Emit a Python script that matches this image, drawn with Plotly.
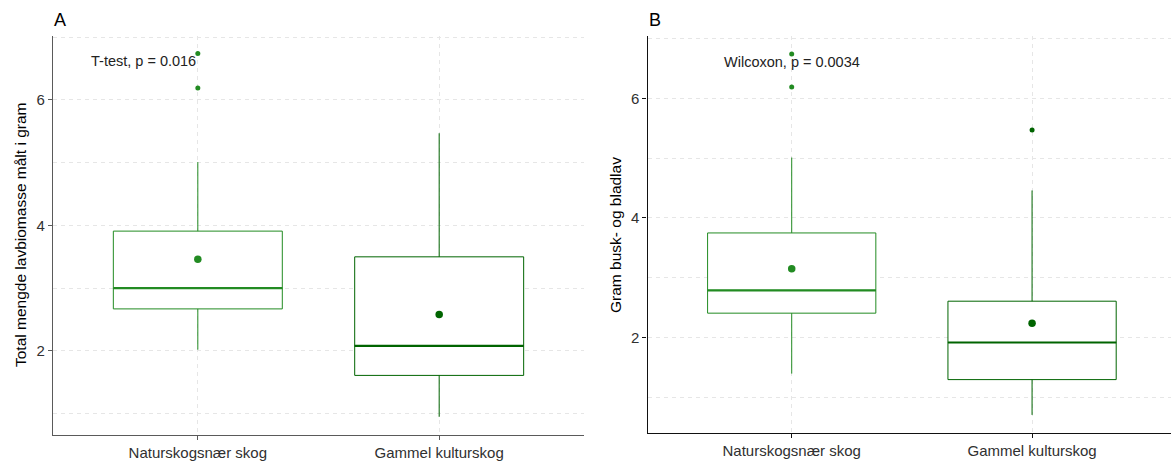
import plotly.graph_objects as go

W, H = 1171, 462

categories = ["Naturskogsnær skog", "Gammel kulturskog"]
colors = ["#228B22", "#006400"]

# Panel A: Total mengde lavbiomasse
a_q1 = [2.67, 1.61]
a_median = [3.00, 2.08]
a_q3 = [3.91, 3.50]
a_low = [2.02, 0.95]
a_high = [5.01, 5.47]
a_mean = [3.46, 2.58]
a_outliers = [[6.74, 6.19], []]
a_label = "T-test, p = 0.016"

# Panel B: Gram busk- og bladlav
b_q1 = [2.41, 1.30]
b_median = [2.79, 1.92]
b_q3 = [3.75, 2.61]
b_low = [1.40, 0.71]
b_high = [5.01, 4.46]
b_mean = [3.15, 2.24]
b_outliers = [[6.74, 6.19], [5.47]]
b_label = "Wilcoxon, p = 0.0034"

BOXW = 0.7
FONT = "Liberation Sans, Arial, sans-serif"

fig = go.Figure()


def add_panel(xa, ya, q1, med, q3, low, high, mean, outl):
    for i, cat in enumerate(categories):
        xi = i + 1
        c = colors[i]
        fig.add_trace(go.Box(
            x=[xi], q1=[q1[i]], median=[med[i]], q3=[q3[i]],
            lowerfence=[low[i]], upperfence=[high[i]],
            width=BOXW, whiskerwidth=0, fillcolor="white",
            line=dict(color=c, width=1), boxpoints=False,
            xaxis=xa, yaxis=ya, showlegend=False, hoverinfo="skip"))
        fig.add_trace(go.Scatter(
            x=[xi - BOXW / 2, xi + BOXW / 2], y=[med[i], med[i]],
            mode="lines", line=dict(color=c, width=2.2),
            xaxis=xa, yaxis=ya, showlegend=False, hoverinfo="skip"))
        fig.add_trace(go.Scatter(
            x=[xi], y=[mean[i]], mode="markers",
            marker=dict(color=c, size=7.5),
            xaxis=xa, yaxis=ya, showlegend=False, hoverinfo="skip"))
        if outl[i]:
            fig.add_trace(go.Scatter(
                x=[xi] * len(outl[i]), y=outl[i], mode="markers",
                marker=dict(color=c, size=5),
                xaxis=xa, yaxis=ya, showlegend=False, hoverinfo="skip"))


add_panel("x", "y", a_q1, a_median, a_q3, a_low, a_high, a_mean, a_outliers)
add_panel("x2", "y2", b_q1, b_median, b_q3, b_low, b_high, b_mean, b_outliers)

grid = dict(showgrid=True, gridcolor="#e6e6e6", griddash="4px,4px", gridwidth=1)


def xax(domain, rng, lc, anchor):
    return dict(domain=domain, range=rng, tickvals=[1, 2], ticktext=categories,
                showline=True, linecolor=lc, linewidth=1.2, ticks="outside",
                ticklen=4, tickcolor=lc, zeroline=False, anchor=anchor,
                tickfont=dict(family=FONT, size=15, color="#303030"), **grid)


def yax(domain, rng, lc, anchor):
    return dict(domain=domain, range=rng, tickvals=[2, 4, 6],
                showline=True, linecolor=lc, linewidth=1.2, ticks="outside",
                ticklen=4, tickcolor=lc, zeroline=False, anchor=anchor,
                tickfont=dict(family=FONT, size=15, color="#303030"),
                minor=dict(tickvals=[1, 3, 5, 7], showgrid=True, gridcolor="#e6e6e6",
                           griddash="4px,4px", ticks=""),
                **grid)


fig.update_layout(
    width=W, height=H, margin=dict(l=0, r=0, t=0, b=0),
    paper_bgcolor="white", plot_bgcolor="white", boxmode="overlay",
    xaxis=xax([53 / W, 584 / W], [0.4, 2.6], "#5a5a5a", "y"),
    yaxis=yax([1 - 435 / H, 1 - 36 / H], [0.66, 7.02], "#5a5a5a", "x"),
    xaxis2=xax([647.5 / W, 1.0], [0.4, 2.578], "#111111", "y2"),
    yaxis2=yax([1 - 433.3 / H, 1 - 36 / H], [0.403, 7.04], "#111111", "x2"),
)

ann = [
    dict(text="A", x=52 / W, y=1 - 20 / H, xref="paper", yref="paper",
         xanchor="left", yanchor="middle", showarrow=False,
         font=dict(family=FONT, size=18, color="black")),
    dict(text="B", x=647 / W, y=1 - 20 / H, xref="paper", yref="paper",
         xanchor="left", yanchor="middle", showarrow=False,
         font=dict(family=FONT, size=18, color="black")),
    dict(text="Total mengde lavbiomasse målt i gram", x=20 / W, y=1 - 235 / H,
         xref="paper", yref="paper", textangle=-90, showarrow=False,
         xanchor="center", yanchor="middle",
         font=dict(family=FONT, size=15.5, color="black")),
    dict(text="Gram busk- og bladlav", x=615 / W, y=1 - 235 / H,
         xref="paper", yref="paper", textangle=-90, showarrow=False,
         xanchor="center", yanchor="middle",
         font=dict(family=FONT, size=15.5, color="black")),
    dict(text=a_label, x=1, y=6.62, xref="x", yref="y", xanchor="right",
         yanchor="middle", showarrow=False,
         font=dict(family=FONT, size=14.5, color="#222222")),
    dict(text=b_label, x=1, y=6.61, xref="x2", yref="y2", xanchor="center",
         yanchor="middle", showarrow=False,
         font=dict(family=FONT, size=14.5, color="#222222")),
]
fig.update_layout(annotations=ann)

fig.write_html(
    "out.html",
    config={"displayModeBar": False},
    post_script="document.body.style.margin='0';document.body.style.padding='0';",
)
